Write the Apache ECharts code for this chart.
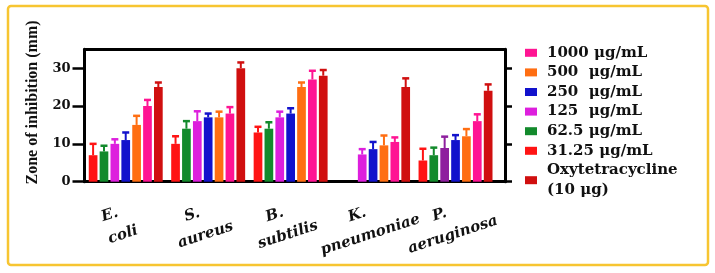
<!DOCTYPE html>
<html>
<head>
<meta charset="utf-8">
<script src="https://cdn.jsdelivr.net/npm/echarts@6/dist/echarts.min.js"></script>
<style>
  html, body { margin: 0; padding: 0; background: #fff; }
  #chart { width: 715px; height: 273px; }
</style>
</head>
<body>
<div id="chart"></div>
<script>
  // strains on the x axis
  const strains = ['E.\ncoli', 'S.\naureus', 'B.\nsubtilis', 'K.\npneumoniae', 'P.\naeruginosa']
  // zone of inhibition (mm), '-' = no zone
  const c31 = [7, 10, 13, '-', 5.6]
  const c62 = [8, 14, 14, '-', 7]
  const c125 = [10, 16, 17, 7.2, 8.9]
  const c250 = [11, 17, 18, 8.6, 11]
  const c500 = [15, 17, 25, 9.6, 12]
  const c1000 = [20, 18, 27, 10.5, 16]
  const oxy = [25, 30, 28, 25, 24]
  // upper error bars (mm)
  const e31 = [3, 2, 1.5, '-', 3.1]
  const e62 = [1.5, 2, 1.7, '-', 2]
  const e125 = [1.2, 2.6, 1.5, 1.4, 3]
  const e250 = [2, 1, 1.4, 1.9, 1.3]
  const e500 = [2.4, 1.5, 1.2, 2.6, 1.9]
  const e1000 = [1.6, 1.7, 2.3, 1.2, 1.8]
  const eOxy = [1.2, 1.5, 1.5, 2.3, 1.7]
  const yTicks = [0, 10, 20, 30]

  // bar order inside a group
  const groups = [
    { name: '31.25 μg/mL', data: c31, err: e31, color: '#FF1414' },
    { name: '62.5 μg/mL', data: c62, err: e62, color: '#138A2C' },
    { name: '125  μg/mL', data: c125, err: e125, color: '#DD1FDD' },
    { name: '250  μg/mL', data: c250, err: e250, color: '#1212CC' },
    { name: '500  μg/mL', data: c500, err: e500, color: '#FF6E12' },
    { name: '1000 μg/mL', data: c1000, err: e1000, color: '#FF1493' },
    { name: 'Oxytetracycline\n(10 μg)', data: oxy, err: eOxy, color: '#D00F0F' }
  ]
  const legendOrder = [5, 4, 3, 2, 1, 0, 6].map(i => groups[i].name)

  const barW = 8.7
  const pitch = barW * 1.25
  const serif = 'DejaVu Serif'
  const xMax = 4.6

  const barSeries = groups.map((g, k) => ({
    name: g.name,
    type: 'bar',
    barWidth: barW,
    barGap: '25%',
    color: g.color,
    itemStyle: { color: g.color },
    data: g.data.map((v, i) => {
      // the 125 bar of P. aeruginosa is printed in purple
      if (k === 2 && i === 4) return { value: [i, v], itemStyle: { color: '#8E1F9E' } }
      return [i, v]
    })
  }))

  const errData = []
  groups.forEach((g, k) => {
    g.data.forEach((v, i) => {
      if (v !== '-') errData.push([i, k, v, g.err[i]])
    })
  })

  const chart = echarts.init(document.getElementById('chart'))
  chart.setOption({
    animation: false,
    grid: {
      left: 84.5,
      right: 210,
      top: 49.2,
      bottom: 91.3,
      containLabel: false,
      outerBoundsMode: 'none'
    },
    legend: {
      orient: 'vertical',
      left: 525,
      top: 43,
      padding: 0,
      itemGap: 0,
      itemWidth: 12,
      itemHeight: 8,
      icon: 'rect',
      data: legendOrder,
      textStyle: {
        fontFamily: serif,
        fontWeight: 'bold',
        fontSize: 15,
        lineHeight: 19.6,
        color: '#111',
        padding: [0, 0, 0, 5]
      }
    },
    xAxis: [
      {
        type: 'value',
        min: -0.5,
        max: xMax,
        position: 'bottom',
        splitLine: { show: false },
        axisTick: { show: false },
        axisLine: { show: true, onZero: false, lineStyle: { color: '#000', width: 3 } },
        axisLabel: {
          // empty label at the axis end, so the min/max overlap check drops that one
          customValues: [0, 1, 2, 3, 4, xMax],
          showMinLabel: true,
          hideOverlap: false,
          rotate: 18,
          align: 'center',
          verticalAlign: 'top',
          margin: 16,
          formatter: v => {
            if (!strains[v]) return ''
            const parts = strains[v].split('\n')
            return '{a|' + parts[0] + '}\n{b|' + parts[1] + '}'
          },
          rich: {
            a: { fontFamily: serif, fontWeight: 'bold', fontStyle: 'italic', fontSize: 15, lineHeight: 23, color: '#111', padding: [0, 41, 0, 0] },
            b: { fontFamily: serif, fontWeight: 'bold', fontStyle: 'italic', fontSize: 15, lineHeight: 23, color: '#111', padding: [0, 28, 0, 0] }
          }
        }
      },
      {
        type: 'value',
        min: -0.5,
        max: xMax,
        position: 'top',
        splitLine: { show: false },
        axisTick: { show: false },
        axisLabel: { show: false },
        axisLine: { show: true, onZero: false, lineStyle: { color: '#000', width: 3 } }
      }
    ],
    yAxis: [
      {
        type: 'value',
        position: 'left',
        min: 0,
        max: 35,
        splitLine: { show: false },
        axisLine: { show: true, onZero: false, lineStyle: { color: '#000', width: 3 } },
        axisTick: { show: true, inside: false, length: 12, customValues: yTicks, lineStyle: { color: '#000', width: 2.5 } },
        axisLabel: { customValues: yTicks, margin: 14, fontFamily: serif, fontWeight: 'bold', fontSize: 13, color: '#111' },
        name: 'Zone of inhibition (mm)',
        nameLocation: 'middle',
        nameGap: 43,
        nameTextStyle: {
          fontFamily: 'Liberation Serif',
          fontWeight: 'bold',
          fontSize: 16,
          lineHeight: 18,
          color: '#111',
          padding: [0, 0, 0, 26]
        }
      },
      {
        type: 'value',
        position: 'right',
        min: 0,
        max: 35,
        splitLine: { show: false },
        axisLine: { show: true, onZero: false, lineStyle: { color: '#000', width: 3 } },
        axisTick: { show: true, inside: false, length: 7, customValues: yTicks, lineStyle: { color: '#000', width: 2.5 } },
        axisLabel: { show: false }
      }
    ],
    graphic: [
      {
        type: 'rect',
        shape: { x: 8, y: 6, width: 700, height: 259, r: 3 },
        style: { fill: 'none', stroke: '#F7C531', lineWidth: 2.5 },
        silent: true
      }
    ],
    series: barSeries.concat([
      {
        name: 'error',
        type: 'custom',
        z: 3,
        data: errData,
        renderItem: (params, api) => {
          const cat = api.value(0)
          const k = api.value(1)
          const v = api.value(2)
          const e = api.value(3)
          const base = api.coord([cat, v])
          const top = api.coord([cat, v + e])
          const x = base[0] + (k - 3) * pitch
          let color = groups[k].color
          if (k === 2 && cat === 4) color = '#8E1F9E'
          return {
            type: 'group',
            children: [
              { type: 'line', shape: { x1: x, y1: base[1], x2: x, y2: top[1] }, style: { stroke: color, lineWidth: 2 } },
              { type: 'line', shape: { x1: x - 3.5, y1: top[1], x2: x + 3.5, y2: top[1] }, style: { stroke: color, lineWidth: 2.5 } }
            ]
          }
        }
      }
    ])
  })
</script>
</body>
</html>
